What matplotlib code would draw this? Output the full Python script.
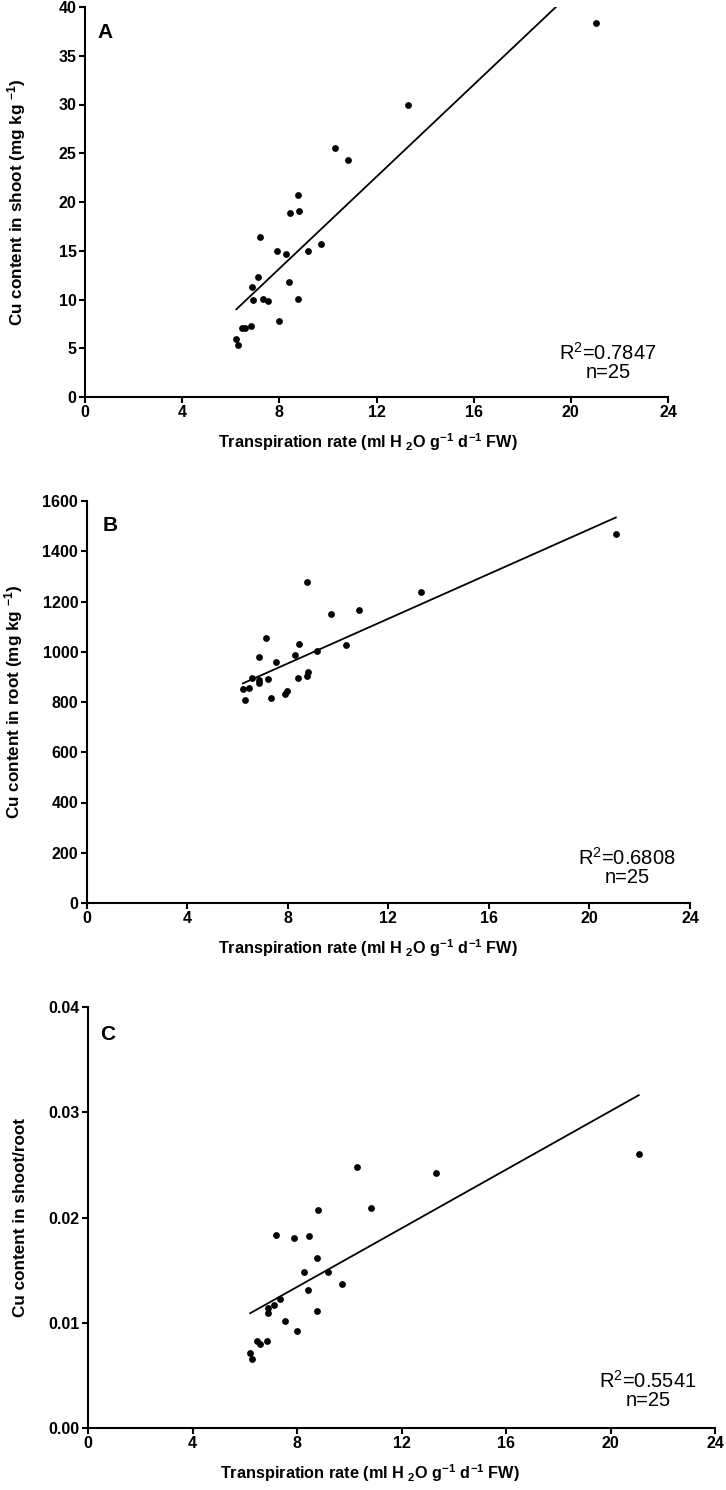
import numpy as np
import matplotlib
matplotlib.use('Agg')
import matplotlib.pyplot as plt

plt.rcParams['font.family'] = ['Liberation Sans', 'DejaVu Sans']
plt.rcParams['mathtext.fontset'] = 'custom'
plt.rcParams['mathtext.default'] = 'bf'
plt.rcParams['mathtext.bf'] = 'Liberation Sans:bold'
plt.rcParams['mathtext.rm'] = 'Liberation Sans:bold'

# panel A: Cu in shoot
x_a = [21.05, 13.29, 10.29, 10.82, 8.77, 8.45, 8.81, 7.19, 9.73, 7.89, 8.27, 9.18, 7.14,
       6.86, 8.41, 6.92, 7.33, 7.53, 8.77, 7.99, 6.45, 6.60, 6.85, 6.23, 6.29]
y_a = [38.4, 30.0, 25.5, 24.3, 20.7, 18.9, 19.1, 16.4, 15.7, 15.0, 14.7, 15.0, 12.3,
       11.3, 11.8, 9.9, 10.1, 9.8, 10.1, 7.8, 7.1, 7.1, 7.3, 6.0, 5.3]
fit_a = (2.357, -5.69)

# panel B: Cu in root
x_b = [21.05, 13.29, 8.78, 9.72, 10.84, 7.14, 8.45, 10.31, 9.18, 8.28, 6.87, 7.55, 8.82,
       8.77, 8.41, 6.58, 7.20, 6.87, 6.86, 6.47, 6.22, 7.98, 7.91, 7.34, 6.29]
y_b = [1470, 1238, 1278, 1149, 1165, 1054, 1031, 1025, 1001, 987, 979, 961, 921,
       904, 895, 895, 891, 887, 877, 857, 852, 842, 831, 814, 807]
fit_b = (44.53, 597.0)

# panel C: shoot/root ratio
x_c = [21.08, 13.32, 10.31, 10.83, 8.81, 7.19, 7.89, 8.45, 8.78, 8.27, 9.19, 9.73, 8.41,
       7.34, 7.13, 6.88, 6.90, 8.78, 7.53, 8.00, 6.45, 6.57, 6.85, 6.21, 6.26]
y_c = [0.02604, 0.02420, 0.02477, 0.02087, 0.02071, 0.01833, 0.01805, 0.01824, 0.01618,
       0.01481, 0.01485, 0.01364, 0.01313, 0.01228, 0.01164, 0.01136, 0.01094, 0.01113,
       0.01015, 0.00923, 0.00825, 0.00796, 0.00822, 0.00708, 0.00654]
fit_c = (0.001393, 0.002256)

xlabel = 'Transpiration rate (ml H $_{2}$O g$^{-1}$ d$^{-1}$ FW)'

W, H = 726, 1490
panels = [
    # letter, x, y, fit, ylim, yticks, ylabel, r2, box(l, r, top, bottom), ylabel x, xlabel (x, y), letter pos, stat pos
    ('A', x_a, y_a, fit_a, 40, np.arange(0, 41, 5), 'Cu content in shoot (mg kg $^{-1}$)', '0.7847',
     (85, 668, 7, 397), 28, (368, 442), (105, 32), (608, 362)),
    ('B', x_b, y_b, fit_b, 1600, np.arange(0, 1601, 200), 'Cu content in root (mg kg $^{-1}$)', '0.6808',
     (86.5, 690, 501, 903), 25, (368, 948), (110, 525), (627, 867)),
    ('C', x_c, y_c, fit_c, 0.04, [0.0, 0.01, 0.02, 0.03, 0.04], 'Cu content in shoot/root', '0.5541',
     (88, 715, 1007, 1428), 28, (370, 1473), (108, 1035), (648, 1390)),
]

fig = plt.figure(figsize=(W / 100, H / 100), dpi=100)

for (letter, xs, ys, fit, ymax, yticks, ylab, r2, box, ylab_x,
     xlab_pos, let_pos, stat_pos) in panels:
    l, r, t, b = box
    ax = fig.add_axes([l / W, 1 - b / H, (r - l) / W, (b - t) / H])
    ax.scatter(xs, ys, s=24, color='black', zorder=3, linewidths=0)
    lx = np.array([min(xs), max(xs)])
    ax.plot(lx, fit[0] * lx + fit[1], color='black', lw=1.3)

    ax.set_xlim(0, 24)
    ax.set_ylim(0, ymax)
    ax.set_xticks(range(0, 25, 4))
    ax.set_yticks(yticks)
    if letter == 'C':
        ax.set_yticklabels(['%.2f' % v for v in yticks])
    for s in ['top', 'right']:
        ax.spines[s].set_visible(False)
    for s in ['left', 'bottom']:
        ax.spines[s].set_linewidth(1.5)
    ax.tick_params(direction='out', length=4, width=1.5, labelsize=11.5, pad=2)
    for lab in ax.get_xticklabels() + ax.get_yticklabels():
        lab.set_fontweight('bold')

    ax.set_ylabel(ylab, fontsize=12.3, fontweight='bold')
    ax.yaxis.set_label_coords((ylab_x - l) / (r - l), 0.5)
    ax.set_xlabel(xlabel, fontsize=11.7, fontweight='bold')
    ax.xaxis.label.set_va('center')
    ax.xaxis.set_label_coords((xlab_pos[0] - l) / (r - l), (b - xlab_pos[1]) / (b - t))

    ax.text((let_pos[0] - l) / (r - l), (b - let_pos[1]) / (b - t), letter, transform=ax.transAxes,
            fontsize=15, fontweight='bold', ha='center', va='center')
    ax.text((stat_pos[0] - l) / (r - l), (b - stat_pos[1]) / (b - t),
            r'R$\mathregular{^2}$=' + r2 + '\nn=25',
            transform=ax.transAxes, fontsize=14.5, ha='center', va='center', multialignment='center',
            linespacing=1.0)

fig.savefig('out.png', dpi=100)
